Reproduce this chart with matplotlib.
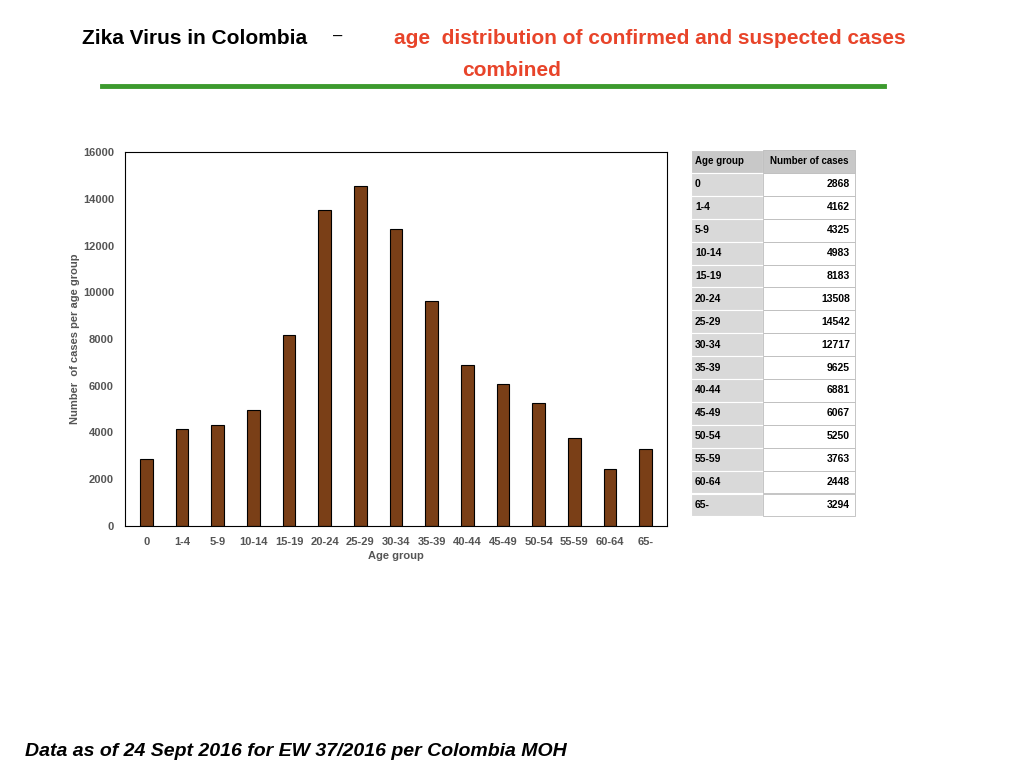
import matplotlib.pyplot as plt
from matplotlib.patches import Rectangle

plt.rcParams['font.family'] = ['Liberation Sans', 'DejaVu Sans']

age_groups = ['0', '1-4', '5-9', '10-14', '15-19', '20-24', '25-29', '30-34',
              '35-39', '40-44', '45-49', '50-54', '55-59', '60-64', '65-']
cases = [2868, 4162, 4325, 4983, 8183, 13508, 14542, 12717,
         9625, 6881, 6067, 5250, 3763, 2448, 3294]

fig = plt.figure(figsize=(10.24, 7.68), dpi=100)

# titel
fig.text(82/1024, 1 - 38/768, 'Zika Virus in Colombia', fontsize=15, fontweight='bold',
         color='black', va='center', ha='left')
fig.text(333/1024, 1 - 36/768, '–', fontsize=12, color='black', va='center', ha='left')
fig.text(650/1024, 1 - 38/768, 'age  distribution of confirmed and suspected cases',
         fontsize=15, fontweight='bold', color='#e8442a', va='center', ha='center')
fig.text(512/1024, 1 - 70/768, 'combined', fontsize=15, fontweight='bold',
         color='#e8442a', va='center', ha='center')
fig.add_artist(plt.Line2D([102/1024, 884/1024], [1 - 86/768, 1 - 86/768],
                          color='#3c9a2e', lw=3.5))

# chart
ax = fig.add_axes([125/1024, 1 - 526/768, 542/1024, 374/768])
x = range(len(age_groups))
ax.bar(x, cases, width=0.35, color='#7a3f17', edgecolor='black', linewidth=0.8)
ax.set_xlim(-0.6, len(age_groups) - 0.4)
ax.set_ylim(0, 16000)
ax.set_yticks(range(0, 16001, 2000))
ax.set_xticks(list(x))
ax.set_xticklabels(age_groups)
ax.tick_params(length=0, labelsize=8, labelcolor='#555555', pad=8)
for lbl in ax.get_xticklabels() + ax.get_yticklabels():
    lbl.set_fontweight('bold')
ax.set_xlabel('Age group', fontsize=8, fontweight='bold', color='#555555', labelpad=3)
ax.set_ylabel('Number  of cases per age group', fontsize=8, fontweight='bold',
              color='#555555', labelpad=2)
for s in ax.spines.values():
    s.set_linewidth(0.8)

# tabel
tx0, tx1, tx2 = 691, 763, 855
ty0, rh = 150, 22.9
def fx(v): return v / 1024
def fy(v): return 1 - v / 768
rows = [('Age group', 'Number of cases')] + [(a, str(c)) for a, c in zip(age_groups, cases)]
for i, (a, c) in enumerate(rows):
    top = ty0 + i * rh
    if i == 0:
        c1, c2 = '#c8c8c8', '#c8c8c8'
    else:
        c1, c2 = '#d9d9d9', 'white'
    fig.add_artist(Rectangle((fx(tx0), fy(top + rh)), fx(tx1 - tx0), rh / 768,
                             facecolor=c1, edgecolor='white', lw=0.8))
    fig.add_artist(Rectangle((fx(tx1), fy(top + rh)), fx(tx2 - tx1), rh / 768,
                             facecolor=c2, edgecolor='#bbbbbb', lw=0.6))
    fs = 7 if i == 0 else 7.5
    fig.text(fx(tx0 + 4), fy(top + rh / 2), a, fontsize=fs, fontweight='bold',
             va='center', ha='left')
    if i == 0:
        fig.text(fx((tx1 + tx2) / 2), fy(top + rh / 2), c, fontsize=fs,
                 fontweight='bold', va='center', ha='center')
    else:
        fig.text(fx(tx2 - 5), fy(top + rh / 2), c, fontsize=fs, fontweight='bold',
                 va='center', ha='right')

fig.text(25/1024, 1 - 752/768, 'Data as of 24 Sept 2016 for EW 37/2016 per Colombia MOH',
         fontsize=14, fontweight='bold', fontstyle='italic', va='center', ha='left')

fig.savefig('out.png', dpi=100)
